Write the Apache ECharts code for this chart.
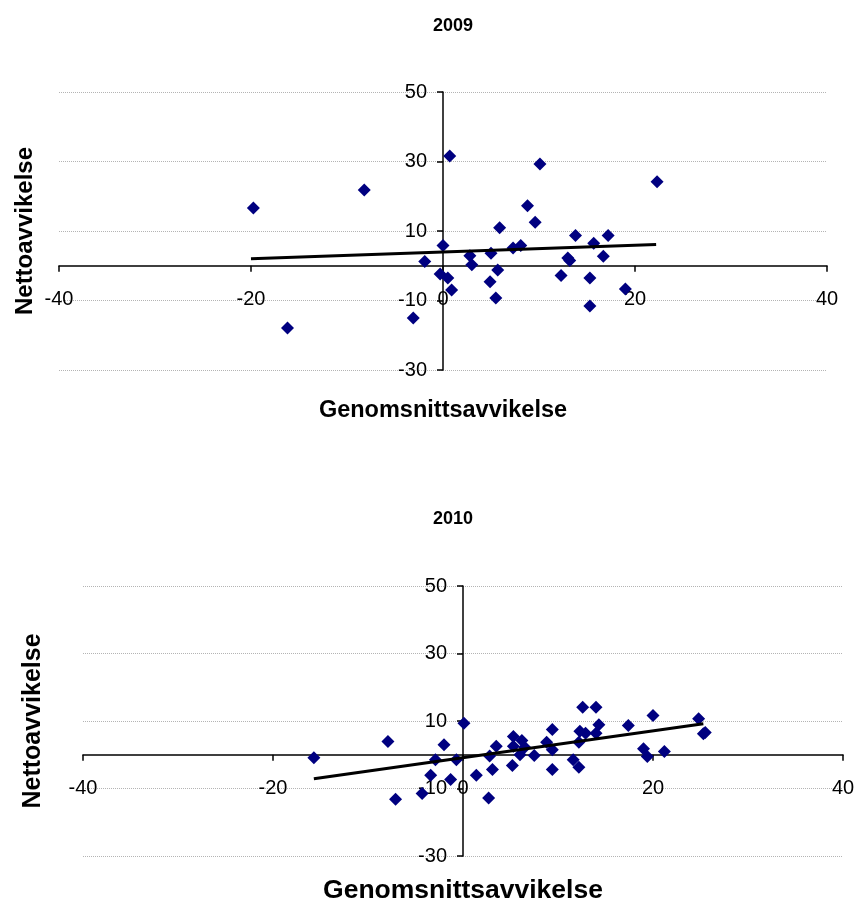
<!DOCTYPE html>
<html>
<head>
<meta charset="utf-8">
<script src="https://cdn.jsdelivr.net/npm/echarts@6/dist/echarts.min.js"></script>
<style>
  html, body { margin: 0; padding: 0; background: #fff; }
  #main { width: 856px; height: 903px; }
</style>
</head>
<body>
<div id="main"></div>
<script>
// titlar och axelnamn
const years = ['2009', '2010'];
const xName = 'Genomsnittsavvikelse';
const yName = 'Nettoavvikelse';

// axelskalor [min, max, steg]
const xScale = [-40, 40, 20];
const yScale = [-30, 50, 20];

// 2009: [genomsnittsavvikelse, nettoavvikelse]
const points2009 = [
  [-19.75, 16.6], [-8.2, 21.8], [-16.2, -17.9], [-3.1, -15.0], [-1.9, 1.2],
  [0.7, 31.6], [10.1, 29.3], [22.3, 24.2], [8.8, 17.3], [9.6, 12.5],
  [5.9, 10.9], [0.0, 5.8], [7.3, 5.1], [8.1, 5.8], [5.0, 3.6],
  [2.8, 2.9], [3.0, 0.3], [-0.3, -2.4], [0.5, -3.5], [0.9, -7.0],
  [4.9, -4.6], [5.7, -1.2], [5.5, -9.3], [13.8, 8.7], [15.7, 6.5],
  [17.2, 8.7], [13.0, 2.2], [13.2, 1.5], [16.7, 2.7], [12.3, -2.8],
  [15.3, -3.5], [15.3, -11.6], [19.0, -6.7]
];
const trend2009 = [[-20, 2.0], [22.2, 6.1]];

// 2010
const points2010 = [
  [-15.7, -0.9], [-7.9, 3.9], [-7.1, -13.2], [-4.3, -11.5], [-3.4, -6.1],
  [-2.9, -1.5], [-2.0, 3.0], [-1.3, -7.3], [-0.7, -1.5], [0.1, 9.3],
  [1.4, -6.1], [2.7, -12.8], [2.8, -0.4], [3.1, -4.4], [3.5, 2.5],
  [5.2, -3.2], [5.3, 5.4], [5.3, 2.5], [6.0, 0.0], [6.2, 4.2],
  [6.5, 2.2], [7.5, -0.2], [8.8, 3.7], [9.4, 7.5], [9.4, 1.5],
  [9.4, -4.4], [11.6, -1.5], [12.2, -3.7], [12.2, 3.7], [12.3, 7.0],
  [12.6, 14.1], [12.9, 6.4], [14.0, 14.1], [14.0, 6.4], [14.3, 8.9],
  [17.4, 8.7], [19.0, 1.8], [19.4, -0.5], [20.0, 11.6], [21.2, 1.0],
  [24.8, 10.7], [25.3, 6.2], [25.5, 6.6]
];
const trend2010 = [[-15.7, -7.1], [25.3, 9.2]];

const FONT = 'Liberation Sans, Arial, sans-serif';

// diagramytor (pixlar)
const grids = [
  { left: 59, right: 29, top: 92, height: 278 },
  { left: 83, right: 13, top: 586, height: 270 }
];

// flytta axlarna till nollan via offset, labels följer med
function zeroOffsetX(g) {
  const perUnit = g.height / (yScale[1] - yScale[0]);
  return -(0 - yScale[0]) * perUnit;
}
function zeroOffsetY(g) {
  const w = 856 - g.left - g.right;
  const perUnit = w / (xScale[1] - xScale[0]);
  return -(0 - xScale[0]) * perUnit;
}

function xAxisFor(i, nameGap, nameSize) {
  return {
    type: 'value', gridIndex: i, position: 'bottom', offset: zeroOffsetX(grids[i]),
    min: xScale[0], max: xScale[1], interval: xScale[2],
    name: xName, nameLocation: 'middle', nameGap: nameGap,
    nameTextStyle: { fontFamily: FONT, fontSize: nameSize, fontWeight: 'bold', color: '#000' },
    axisLine: { onZero: false, lineStyle: { color: '#000', width: 1.5 } },
    axisTick: { show: true, inside: false, length: 6, lineStyle: { color: '#000', width: 1.5 } },
    axisLabel: { margin: 24, fontFamily: FONT, fontSize: 20, color: '#000' },
    splitLine: { show: false }
  };
}

function yAxisFor(i, nameGap, nameSize) {
  return {
    type: 'value', gridIndex: i, position: 'left', offset: zeroOffsetY(grids[i]),
    min: yScale[0], max: yScale[1], interval: yScale[2],
    name: yName, nameLocation: 'middle', nameGap: nameGap, nameRotate: 90,
    nameTextStyle: { fontFamily: FONT, fontSize: nameSize, fontWeight: 'bold', color: '#000' },
    axisLine: { onZero: false, lineStyle: { color: '#000', width: 1.5 } },
    axisTick: { show: true, inside: false, length: 6, lineStyle: { color: '#000', width: 1.5 } },
    axisLabel: { margin: 16, fontFamily: FONT, fontSize: 20, color: '#000' },
    splitLine: { show: true, lineStyle: { color: '#b4b4b4', type: 'dotted', width: 1 } }
  };
}

function scatter(i, data) {
  return {
    type: 'scatter', xAxisIndex: i, yAxisIndex: i, data: data,
    symbol: 'diamond', symbolSize: 13,
    itemStyle: { color: '#000080', opacity: 1 }, z: 3
  };
}

function trend(i, data) {
  return {
    type: 'line', xAxisIndex: i, yAxisIndex: i, data: data,
    showSymbol: false, symbol: 'none', silent: true,
    lineStyle: { color: '#000', width: 3 }, z: 4
  };
}

const chart = echarts.init(document.getElementById('main'));
chart.setOption({
  animation: false,
  backgroundColor: '#fff',
  title: [
    { text: years[0], left: 448, top: 12, textAlign: 'center',
      textStyle: { fontFamily: FONT, fontSize: 18, fontWeight: 'bold', color: '#000' } },
    { text: years[1], left: 448, top: 505, textAlign: 'center',
      textStyle: { fontFamily: FONT, fontSize: 18, fontWeight: 'bold', color: '#000' } }
  ],
  grid: grids.map(g => Object.assign({ containLabel: false, outerBoundsMode: 'none' }, g)),
  xAxis: [xAxisFor(0, 133, 23.5), xAxisFor(1, 122, 26.5)],
  yAxis: [yAxisFor(0, 406, 24), yAxisFor(1, 417, 25)],
  series: [
    scatter(0, points2009), trend(0, trend2009),
    scatter(1, points2010), trend(1, trend2010)
  ]
});
</script>
</body>
</html>
